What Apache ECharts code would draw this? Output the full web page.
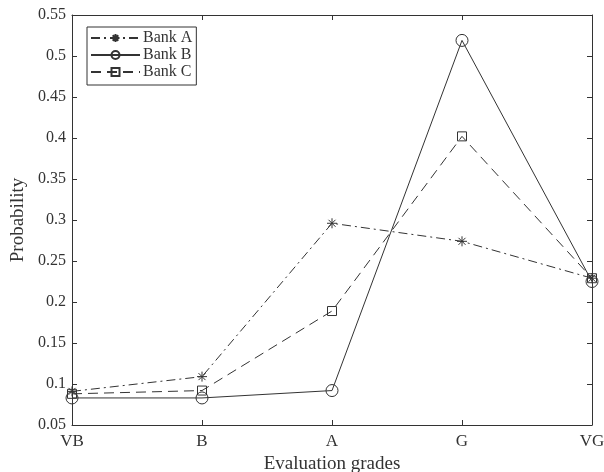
<!DOCTYPE html>
<html>
<head>
<meta charset="utf-8">
<script src="https://cdn.jsdelivr.net/npm/echarts@6/dist/echarts.min.js"></script>
<style>
  html, body { margin: 0; padding: 0; background: #fff; }
  #chart { width: 604px; height: 472px; }
</style>
</head>
<body>
<div id="chart"></div>
<script>
const grades = ['VB', 'B', 'A', 'G', 'VG'];
const bankA = [0.091, 0.109, 0.296, 0.274, 0.229];
const bankB = [0.083, 0.083, 0.092, 0.519, 0.225];
const bankC = [0.088, 0.092, 0.189, 0.402, 0.229];

const ink = '#333';
const font = 'Liberation Serif';
const asterisk = 'path://M0,5L10,5M5,0L5,10M1.5,1.5L8.5,8.5M8.5,1.5L1.5,8.5';

function fmt(v) {
  return String(+v.toFixed(2));
}

function line(name, data, symbol, size, dash) {
  return {
    name,
    type: 'line',
    data,
    symbol,
    symbolSize: size,
    showAllSymbol: true,
    lineStyle: { color: ink, width: 1, type: dash },
    itemStyle: { color: 'rgba(0,0,0,0)', borderColor: ink, borderWidth: 1 },
    emphasis: { disabled: true },
    z: 3,
  };
}

const chart = echarts.init(document.getElementById('chart'), null, { renderer: 'canvas' });

const tickStyle = { show: true, inside: true, length: 5, lineStyle: { color: ink } };
const axisLine = { show: true, onZero: false, lineStyle: { color: ink, width: 1 } };

chart.setOption({
  animation: false,
  backgroundColor: '#fff',
  textStyle: { fontFamily: font },
  grid: { left: 72, right: 12, top: 15, bottom: 47, outerBoundsMode: 'none', containLabel: false },
  legend: {
    left: 87,
    top: 27,
    orient: 'vertical',
    itemWidth: 49,
    itemHeight: 10,
    itemGap: 1,
    padding: [3, 4, 5, 3],
    borderColor: ink,
    borderWidth: 1,
    backgroundColor: '#fff',
    textStyle: { fontFamily: font, fontSize: 16, color: ink, padding: [0, 0, 0, -2] },
    data: ['Bank A', 'Bank B', 'Bank C'],
  },
  xAxis: [
    {
      type: 'category',
      data: grades,
      boundaryGap: false,
      name: 'Evaluation grades',
      nameLocation: 'middle',
      nameGap: 28,
      nameTextStyle: { fontFamily: font, fontSize: 19, color: ink },
      axisLine,
      axisTick: tickStyle,
      axisLabel: { fontFamily: font, fontSize: 17, color: ink, margin: 8 },
      splitLine: { show: false },
    },
    {
      type: 'category',
      data: grades,
      boundaryGap: false,
      position: 'top',
      axisLine,
      axisTick: tickStyle,
      axisLabel: { show: false },
      splitLine: { show: false },
    },
  ],
  yAxis: [
    {
      type: 'value',
      min: 0.05,
      max: 0.55,
      interval: 0.05,
      name: 'Probability',
      nameLocation: 'middle',
      nameGap: 37,
      nameTextStyle: { fontFamily: font, fontSize: 19, color: ink },
      axisLine,
      axisTick: tickStyle,
      axisLabel: { fontFamily: font, fontSize: 16, color: ink, margin: 6, formatter: fmt },
      splitLine: { show: false },
    },
    {
      type: 'value',
      min: 0.05,
      max: 0.55,
      interval: 0.05,
      position: 'right',
      axisLine,
      axisTick: tickStyle,
      axisLabel: { show: false },
      splitLine: { show: false },
    },
  ],
  series: [
    line('Bank A', bankA, asterisk, 10, [9, 4, 2, 4]),
    line('Bank B', bankB, 'circle', 12, 'solid'),
    line('Bank C', bankC, 'rect', 9, [10, 6]),
  ],
});
</script>
</body>
</html>
